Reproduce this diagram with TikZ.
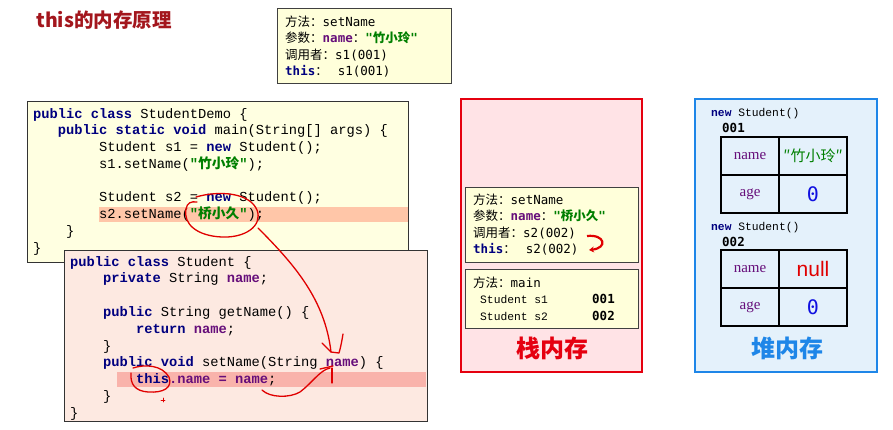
\documentclass[tikz,border=0pt]{standalone}
\usepackage{fontspec}
\usepackage{xcolor}
\usetikzlibrary{positioning, arrows.meta}
\setmonofont{Liberation Mono}
\newfontfamily\zh{Noto Sans CJK SC}
\newfontfamily\frm{DejaVu Sans Mono}
\newfontfamily\ser{Liberation Serif}
\newfontfamily\sans{Liberation Sans}

\definecolor{titlered}{HTML}{A3161D}
\definecolor{kwblue}{HTML}{00007F}
\definecolor{fldpurple}{HTML}{660E7A}
\definecolor{strgreen}{HTML}{007F00}
\definecolor{codeyellow}{HTML}{FFFFE1}
\definecolor{codepink}{HTML}{FDE9E1}
\definecolor{hlorange}{HTML}{FFC6A8}
\definecolor{hlpink}{HTML}{F9B3AB}
\definecolor{framefill}{HTML}{FFFFDA}
\definecolor{stackfill}{HTML}{FFE3E6}
\definecolor{stackred}{HTML}{E5000F}
\definecolor{heapfill}{HTML}{E4F1FB}
\definecolor{heapblue}{HTML}{1E86E8}
\definecolor{zeroblue}{HTML}{1010E0}
\definecolor{penred}{HTML}{E00000}

\newcommand\kw[1]{{\color{kwblue}\bfseries #1}}
\newcommand\fld[1]{{\color{fldpurple}\bfseries #1}}
\newcommand\lit[1]{{\color{strgreen}\bfseries #1}}
\newcommand\ind[1]{\hspace*{#1\fontcharwd\font`x}}

\begin{document}
\begin{tikzpicture}[
    x=1pt, y=-1pt,
    title/.style={font=\zh\bfseries\fontsize{19.5}{22}\selectfont, text=titlered, inner sep=0pt},
    codebox/.style={draw=black!80, line width=0.8pt, inner sep=0pt},
    framebox/.style={draw=black!75, fill=framefill, line width=0.8pt, inner sep=0pt},
    code/.style={font=\ttfamily\fontsize{13.75}{16}\selectfont, anchor=base west, inner sep=0pt},
    frametext/.style={font=\frm\fontsize{12.5}{15}\selectfont, anchor=base west, inner sep=0pt},
    slot/.style={font=\ttfamily\fontsize{11.3}{14}\selectfont, anchor=base west, inner sep=0pt},
    memlabel/.style={font=\zh\bfseries\fontsize{24}{28}\selectfont, inner sep=0pt},
    keycell/.style={draw=black, line width=2.2pt, minimum width=58pt, minimum height=38pt,
      inner sep=0pt, outer sep=0pt, text=fldpurple, font=\ser\fontsize{15}{17}\selectfont},
    valcell/.style={draw=black, line width=2.2pt, minimum width=68pt, minimum height=38pt,
      inner sep=0pt, outer sep=0pt},
    zero/.style={text=zeroblue, font=\frm\fontsize{20}{24}\selectfont},
    scribble/.style={draw=penred, line width=1.3pt, line cap=round, line join=round}
    ]
    \useasboundingbox (0,0) rectangle (893,429);

    % Titre
    \node[title] (title) at (104,20) {this的内存原理};

    % Appel s1
    \node[framebox, minimum width=174pt, minimum height=75pt] (topFrame) at (364,45.5) {};
    \node[frametext] (t1) at (285,26.5) {{\zh 方法：}setName};
    \node[frametext] (t2) at (285,42.9) {{\zh 参数：}\fld{name}{\zh ：}\lit{"{\zh 竹小玲}"}};
    \node[frametext] (t3) at (285,59.3) {{\zh 调用者：}s1(001)};
    \node[frametext] (t4) at (285,75.7) {\kw{this}{\zh ：}\hspace{10pt}s1(001)};

    % Code StudentDemo
    \node[codebox, fill=codeyellow, minimum width=381pt, minimum height=161pt] (demoBox) at (217.5,181.5) {};
    \fill[hlorange] (99,207) rectangle (408,222);
    \node[code] (d1) at (33,118) {\kw{public class} StudentDemo \{};
    \node[code] (d2) at (33,134.75) {\ind3\kw{public static void} main(String[] args) \{};
    \node[code] (d3) at (33,151.5) {\ind8Student s1 = \kw{new} Student();};
    \node[code] (d4) at (33,168.25) {\ind8s1.setName(\lit{"{\zh 竹小玲}"});};
    \node[code] (d5) at (33,201.75) {\ind8Student s2 = \kw{new} Student();};
    \node[code] (d6) at (33,218.5) {\ind8s2.setName(\lit{"{\zh 桥小久}"});};
    \node[code] (d7) at (33,235.25) {\ind4\}};
    \node[code] (d8) at (33,252) {\}};

    % Code Student
    \node[codebox, fill=codepink, minimum width=363pt, minimum height=171pt] (stuBox) at (245.5,335.5) {};
    \fill[hlpink] (117,372) rectangle (426,387);
    \node[code] (s1) at (70,266) {\kw{public class} Student \{};
    \node[code] (s2) at (70,282.8) {\ind4\kw{private} String \fld{name};};
    \node[code] (s3) at (70,316.4) {\ind4\kw{public} String getName() \{};
    \node[code] (s4) at (70,333.2) {\ind8\kw{return} \fld{name};};
    \node[code] (s5) at (70,350) {\ind4\}};
    \node[code] (s6) at (70,366.8) {\ind4\kw{public void} setName(String \fld{name}) \{};
    \node[code] (s7) at (70,383.6) {\ind8\kw{this}\fld{.name = name};};
    \node[code] (s8) at (70,400.4) {\ind4\}};
    \node[code] (s9) at (70,417.2) {\}};

    % Pile
    \node[draw=stackred, fill=stackfill, line width=2.5pt, minimum width=181pt, minimum height=273pt] (stack) at (551.5,235.5) {};
    \node[framebox, minimum width=173pt, minimum height=75pt] (setFrame) at (551.5,224.5) {};
    \node[frametext] (f1) at (473,204.5) {{\zh 方法：}setName};
    \node[frametext] (f2) at (473,220.9) {{\zh 参数：}\fld{name}{\zh ：}\lit{"{\zh 桥小久}"}};
    \node[frametext] (f3) at (473,237.3) {{\zh 调用者：}s2(002)};
    \node[frametext] (f4) at (473,253.7) {\kw{this}{\zh ：}\hspace{10pt}s2(002)};
    \node[framebox, minimum width=173pt, minimum height=59pt] (mainFrame) at (551.5,298.5) {};
    \node[frametext] (m1) at (473,287.5) {{\zh 方法：}main};
    \node[slot] (m2) at (480,303.5) {Student s1};
    \node[frametext] (m3) at (592,303.5) {\bfseries 001};
    \node[slot] (m4) at (480,320.5) {Student s2};
    \node[frametext] (m5) at (592,320.5) {\bfseries 002};
    \node[memlabel, text=stackred] (stackLabel) at (552,348) {栈内存};

    % Tas
    \node[draw=heapblue, fill=heapfill, line width=2.5pt, minimum width=182pt, minimum height=273pt] (heap) at (786,235.5) {};
    \node[slot] (new1) at (711,116) {\kw{new} Student()};
    \node[frametext] (addr1) at (722,132.5) {\bfseries 001};
    \node[keycell] (name1) at (750,156) {name};
    \node[valcell, right=0pt of name1, text=strgreen, font=\zh\fontsize{15}{18}\selectfont] (nameVal1) {″竹小玲″};
    \node[keycell, below=0pt of name1] (age1) {age};
    \node[valcell, right=0pt of age1, zero] (ageVal1) {0};

    \node[slot] (new2) at (711,230) {\kw{new} Student()};
    \node[frametext] (addr2) at (722,246.5) {\bfseries 002};
    \node[keycell] (name2) at (750,269) {name};
    \node[valcell, right=0pt of name2, text=penred, font=\sans\fontsize{21}{24}\selectfont] (nameVal2) {null};
    \node[keycell, below=0pt of name2] (age2) {age};
    \node[valcell, right=0pt of age2, zero] (ageVal2) {0};
    \node[memlabel, text=heapblue] (heapLabel) at (787,348) {堆内存};

    % Annotations
    \coordinate (argLoop) at (258,228);
    \coordinate (paramTop) at (331,352);
    \coordinate (useName) at (262,390);
    \coordinate (paramName) at (330,368);
    \coordinate (callerEnd) at (587,236);
    \coordinate (thisEnd) at (589,250);
    \draw[scribble] (196,197) .. controls (220,190) and (250,193) .. (257,210)
      .. controls (263,226) and (245,238) .. (222,237)
      .. controls (197,236) and (183,224) .. (186,209)
      .. controls (187,203) and (191,201) .. (197,202);
    \draw[scribble] (argLoop) .. controls (295,265) and (325,300) .. (paramTop);
    \draw[scribble] (322,343) -- (paramTop) -- (339,353) .. controls (341,346) and (342,340) .. (343,334);
    \draw[scribble] (133,368) .. controls (145,364) and (162,365) .. (169,377)
      .. controls (173,388) and (163,393) .. (148,392)
      .. controls (135,391) and (130,384) .. (131,373);
    \draw[scribble, line width=0.8pt] (161,400) -- (165,400) (163,398) -- (163,402);
    \draw[scribble] (useName) .. controls (270,398) and (290,398) .. (300,392)
      .. controls (312,383) and (320,370) .. (paramName);
    \draw[scribble] (320,369) -- (333,366);
    \draw[scribble] (332,368) -- (332,383);
    \draw[penred, line width=2.2pt, -{Stealth[length=5pt,width=6pt]}] (callerEnd)
      .. controls (605,234) and (608,248) .. (thisEnd);

  \end{tikzpicture}
\end{document}
